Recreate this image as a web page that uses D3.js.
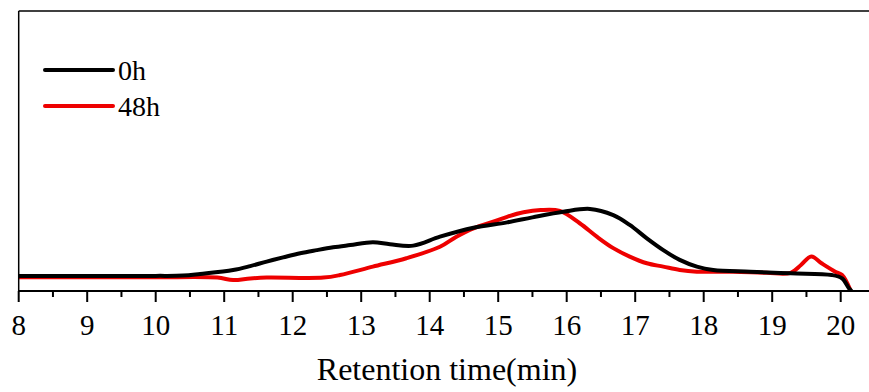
<!DOCTYPE html>
<html>
<head>
<meta charset="utf-8">
<script src="https://cdn.jsdelivr.net/npm/d3@7"></script>
<style>
  body { margin: 0; background: #fff; }
  text { font-family: "Liberation Serif", "Times New Roman", serif; }
</style>
</head>
<body>
<div id="chart"></div>
<script>
// retention time (min) and detector signal (arbitrary units, 0-100)
const time0h = [8.0, 9.0, 10.0, 10.4, 10.65, 11.13, 11.38, 11.62, 11.86, 12.11, 12.35, 12.59, 12.84, 13.17, 13.42, 13.76, 14.15, 14.64, 15.13, 15.5, 15.95, 16.34, 16.68, 16.92, 17.17, 17.41, 17.65, 17.9, 18.14, 18.68, 19.27, 19.87, 20.02, 20.12, 20.16];
const signal0h = [5.4, 5.4, 5.4, 5.5, 6.1, 7.5, 8.9, 10.5, 12.0, 13.5, 14.6, 15.6, 16.4, 17.4, 16.7, 16.2, 19.4, 22.6, 24.5, 26.3, 28.3, 29.3, 27.1, 23.6, 18.8, 14.6, 11.1, 8.7, 7.5, 6.9, 6.3, 5.7, 4.5, 1.0, 0.0];

const time48h = [8.0, 9.0, 10.0, 10.9, 11.13, 11.38, 11.62, 12.45, 12.69, 13.17, 13.66, 14.15, 14.39, 14.64, 14.96, 15.13, 15.37, 15.62, 15.9, 16.19, 16.44, 16.68, 16.92, 17.17, 17.41, 17.65, 17.9, 18.43, 18.92, 19.27, 19.42, 19.57, 19.72, 19.92, 20.02, 20.14];
const signal48h = [4.9, 4.9, 4.9, 4.8, 3.9, 4.5, 4.8, 4.8, 5.7, 8.7, 11.7, 15.8, 19.4, 22.4, 25.0, 26.5, 28.1, 28.9, 28.6, 24.2, 19.4, 15.3, 12.3, 9.9, 8.7, 7.5, 6.9, 6.9, 6.5, 6.5, 9.3, 12.3, 9.9, 6.9, 5.7, 0.4];

const seriesNames = ["0h", "48h"];
const seriesColors = ["#000000", "#ee0000"];
const xTicks = [8, 9, 10, 11, 12, 13, 14, 15, 16, 17, 18, 19, 20];
const xLabel = "Retention time(min)";

const width = 869, height = 392;
const plotLeft = 18.7, plotTop = 11, plotBottom = 291;

const svg = d3.select("#chart").append("svg")
    .attr("width", width)
    .attr("height", height);

const x = d3.scaleLinear()
    .domain([8, 8 + (width - plotLeft) / 68.5])
    .range([plotLeft, width]);

const y = d3.scaleLinear()
    .domain([0, 100])
    .range([plotBottom, plotTop]);

svg.append("clipPath").attr("id", "clip")
  .append("rect")
    .attr("x", plotLeft).attr("y", plotTop)
    .attr("width", width - plotLeft).attr("height", plotBottom - plotTop);

const line = d3.line()
    .x(d => x(d[0]))
    .y(d => y(d[1]))
    .curve(d3.curveCatmullRom.alpha(0.5));

const series = [
    d3.zip(time0h, signal0h),
    d3.zip(time48h, signal48h)
];

// draw 0h last so it sits on top where they overlap
[1, 0].forEach(i => {
    svg.append("path")
        .datum(series[i])
        .attr("clip-path", "url(#clip)")
        .attr("d", line)
        .style("fill", "none")
        .style("stroke", seriesColors[i])
        .style("stroke-width", 4)
        .style("stroke-linejoin", "round");
});

// frame: top and left
svg.append("line")
    .attr("x1", plotLeft).attr("x2", width)
    .attr("y1", plotTop).attr("y2", plotTop)
    .style("stroke", "#000").style("stroke-width", 1.5);
svg.append("line")
    .attr("x1", plotLeft).attr("x2", plotLeft)
    .attr("y1", plotTop).attr("y2", plotBottom)
    .style("stroke", "#000").style("stroke-width", 1.5);

// x axis
const minorTicks = d3.range(8.5, 20.5, 1);
const gx = svg.append("g")
    .attr("transform", `translate(0,${plotBottom})`);

gx.append("line")
    .attr("x1", plotLeft).attr("x2", width)
    .style("stroke", "#000").style("stroke-width", 2);

gx.selectAll(".major")
    .data(xTicks)
    .enter().append("line")
    .attr("x1", d => x(d)).attr("x2", d => x(d))
    .attr("y1", 0).attr("y2", 11)
    .style("stroke", "#000").style("stroke-width", 2);

gx.selectAll(".minor")
    .data(minorTicks)
    .enter().append("line")
    .attr("x1", d => x(d)).attr("x2", d => x(d))
    .attr("y1", 0).attr("y2", 6)
    .style("stroke", "#000").style("stroke-width", 2);

gx.selectAll(".lab")
    .data(xTicks)
    .enter().append("text")
    .attr("x", d => x(d))
    .attr("y", 44)
    .style("text-anchor", "middle")
    .style("font-size", "29px")
    .text(d => d);

svg.append("text")
    .attr("x", 447)
    .attr("y", 380)
    .style("text-anchor", "middle")
    .style("font-size", "32px")
    .text(xLabel);

// legend
const legend = svg.append("g");
seriesNames.forEach((name, i) => {
    const ly = 70 + i * 36;
    legend.append("line")
        .attr("x1", 45).attr("x2", 113)
        .attr("y1", ly).attr("y2", ly)
        .style("stroke", seriesColors[i])
        .style("stroke-width", 4)
        .style("stroke-linecap", "round");
    legend.append("text")
        .attr("x", 118)
        .attr("y", ly + 10)
        .style("font-size", "28px")
        .text(name);
});
</script>
</body>
</html>
